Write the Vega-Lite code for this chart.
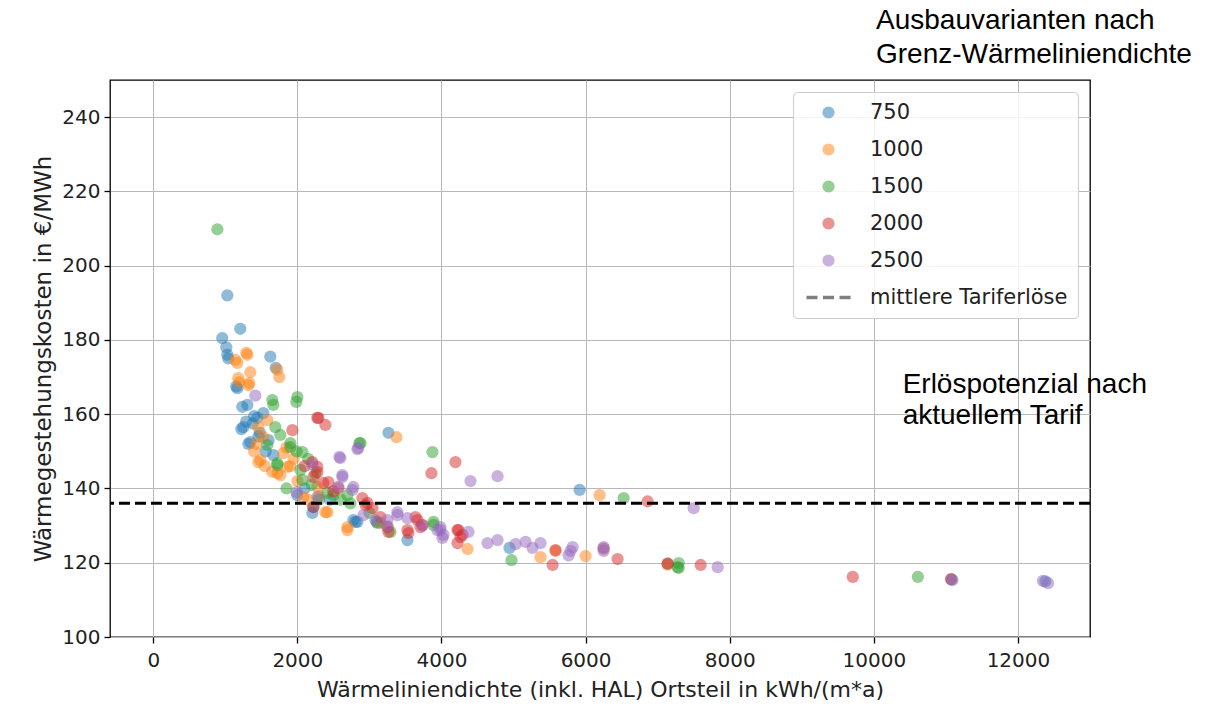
{
  "$schema": "https://vega.github.io/schema/vega-lite/v6.json",
  "width": 980,
  "height": 557,
  "autosize": {"type": "none"},
  "padding": {"left": 110, "top": 80, "right": 121, "bottom": 73},
  "background": "white",
  "config": {
    "view": {"stroke": "black", "strokeWidth": 1.3},
    "axis": {
      "grid": true,
      "gridColor": "#b8b8b8",
      "gridWidth": 1,
      "domain": false,
      "tickColor": "black",
      "tickSize": 6,
      "tickWidth": 1.3,
      "labelFont": "DejaVu Sans",
      "labelFontSize": 20,
      "labelColor": "#222222",
      "labelFlush": false,
      "labelOverlap": false,
      "titleFont": "DejaVu Sans",
      "titleFontSize": 23,
      "titleFontWeight": "normal",
      "titleColor": "#222222"
    },
    "legend": {
      "title": null,
      "orient": "top-right",
      "offset": 12,
      "padding": 10,
      "fillColor": "rgba(255,255,255,0.85)",
      "strokeColor": "#cccccc",
      "cornerRadius": 4,
      "labelFont": "DejaVu Sans",
      "labelFontSize": 21,
      "labelColor": "#222222",
      "labelLimit": 0,
      "rowPadding": 15,
      "symbolOffset": 15,
      "labelOffset": 31,
      "symbolSize": 150,
      "symbolStrokeWidth": 0
    }
  },
  "data": {
    "values": [
      {"x": 1028, "y": 192, "v": "750"}, {"x": 958, "y": 180.5, "v": "750"}, {"x": 1014, "y": 178, "v": "750"}, {"x": 1028, "y": 176, "v": "750"}, {"x": 1042, "y": 175, "v": "750"}, {"x": 1208, "y": 183, "v": "750"}, {"x": 1625, "y": 175.5, "v": "750"}, {"x": 1700, "y": 172.5, "v": "750"}, {"x": 1167, "y": 167, "v": "750"}, {"x": 1153, "y": 167.5, "v": "750"}, {"x": 1236, "y": 162, "v": "750"}, {"x": 1306, "y": 162.5, "v": "750"}, {"x": 1250, "y": 156.5, "v": "750"}, {"x": 1222, "y": 156, "v": "750"}, {"x": 1347, "y": 152.5, "v": "750"}, {"x": 1320, "y": 152, "v": "750"}, {"x": 1444, "y": 159, "v": "750"}, {"x": 1480, "y": 155, "v": "750"}, {"x": 1400, "y": 159.5, "v": "750"}, {"x": 1528, "y": 160.3, "v": "750"}, {"x": 1667, "y": 149, "v": "750"}, {"x": 1560, "y": 150, "v": "750"}, {"x": 1600, "y": 153, "v": "750"}, {"x": 1380, "y": 157.5, "v": "750"}, {"x": 2000, "y": 138.2, "v": "750"}, {"x": 2208, "y": 133.4, "v": "750"}, {"x": 2222, "y": 135, "v": "750"}, {"x": 2778, "y": 131.5, "v": "750"}, {"x": 2806, "y": 131, "v": "750"}, {"x": 3264, "y": 155, "v": "750"}, {"x": 3528, "y": 126.1, "v": "750"}, {"x": 4944, "y": 124, "v": "750"}, {"x": 5917, "y": 139.6, "v": "750"}, {"x": 7139, "y": 119.7, "v": "750"}, {"x": 11080, "y": 115.5, "v": "750"}, {"x": 12380, "y": 115, "v": "750"}, {"x": 2100, "y": 140, "v": "750"}, {"x": 2450, "y": 137, "v": "750"}, {"x": 3100, "y": 131, "v": "750"}, {"x": 1460, "y": 154, "v": "750"}, {"x": 2833, "y": 131, "v": "750"}, {"x": 1290, "y": 158, "v": "750"},
      {"x": 1292, "y": 176.5, "v": "1000"}, {"x": 1306, "y": 176, "v": "1000"}, {"x": 1139, "y": 174.6, "v": "1000"}, {"x": 1167, "y": 173.8, "v": "1000"}, {"x": 1750, "y": 170, "v": "1000"}, {"x": 1720, "y": 172, "v": "1000"}, {"x": 1347, "y": 171.3, "v": "1000"}, {"x": 1180, "y": 169.7, "v": "1000"}, {"x": 1194, "y": 168.6, "v": "1000"}, {"x": 1333, "y": 168.4, "v": "1000"}, {"x": 1320, "y": 167.8, "v": "1000"}, {"x": 1583, "y": 158.4, "v": "1000"}, {"x": 1458, "y": 156.5, "v": "1000"}, {"x": 1528, "y": 153.8, "v": "1000"}, {"x": 1806, "y": 149.5, "v": "1000"}, {"x": 1486, "y": 147.6, "v": "1000"}, {"x": 1458, "y": 147.1, "v": "1000"}, {"x": 1861, "y": 145.8, "v": "1000"}, {"x": 1764, "y": 143.6, "v": "1000"}, {"x": 1722, "y": 144.1, "v": "1000"}, {"x": 1900, "y": 146, "v": "1000"}, {"x": 1950, "y": 148, "v": "1000"}, {"x": 1650, "y": 144.5, "v": "1000"}, {"x": 1550, "y": 146, "v": "1000"}, {"x": 1400, "y": 150, "v": "1000"}, {"x": 1430, "y": 152, "v": "1000"}, {"x": 2000, "y": 142, "v": "1000"}, {"x": 2083, "y": 137.7, "v": "1000"}, {"x": 2278, "y": 140.4, "v": "1000"}, {"x": 2389, "y": 133.6, "v": "1000"}, {"x": 2417, "y": 133.6, "v": "1000"}, {"x": 2694, "y": 128.8, "v": "1000"}, {"x": 2694, "y": 129.6, "v": "1000"}, {"x": 3153, "y": 130.7, "v": "1000"}, {"x": 3375, "y": 153.8, "v": "1000"}, {"x": 4361, "y": 123.7, "v": "1000"}, {"x": 5375, "y": 121.5, "v": "1000"}, {"x": 5583, "y": 123.2, "v": "1000"}, {"x": 6000, "y": 121.8, "v": "1000"}, {"x": 6194, "y": 138.2, "v": "1000"}, {"x": 7139, "y": 119.5, "v": "1000"}, {"x": 2300, "y": 138, "v": "1000"}, {"x": 1850, "y": 151, "v": "1000"}, {"x": 2150, "y": 137, "v": "1000"},
      {"x": 890, "y": 209.8, "v": "1500"}, {"x": 1653, "y": 163.8, "v": "1500"}, {"x": 1667, "y": 162.5, "v": "1500"}, {"x": 2000, "y": 164.6, "v": "1500"}, {"x": 1986, "y": 163.3, "v": "1500"}, {"x": 1694, "y": 156.5, "v": "1500"}, {"x": 1764, "y": 154.4, "v": "1500"}, {"x": 1903, "y": 152.2, "v": "1500"}, {"x": 1903, "y": 151.1, "v": "1500"}, {"x": 1583, "y": 151.7, "v": "1500"}, {"x": 2070, "y": 149.8, "v": "1500"}, {"x": 1722, "y": 146.3, "v": "1500"}, {"x": 1722, "y": 146.8, "v": "1500"}, {"x": 2042, "y": 145, "v": "1500"}, {"x": 2070, "y": 142.3, "v": "1500"}, {"x": 2417, "y": 138.8, "v": "1500"}, {"x": 2694, "y": 138.2, "v": "1500"}, {"x": 2500, "y": 138.2, "v": "1500"}, {"x": 2736, "y": 136, "v": "1500"}, {"x": 2875, "y": 152.2, "v": "1500"}, {"x": 2861, "y": 152.2, "v": "1500"}, {"x": 3111, "y": 130.7, "v": "1500"}, {"x": 3292, "y": 128.3, "v": "1500"}, {"x": 3889, "y": 131, "v": "1500"}, {"x": 3875, "y": 149.8, "v": "1500"}, {"x": 3889, "y": 130.2, "v": "1500"}, {"x": 4972, "y": 120.7, "v": "1500"}, {"x": 6528, "y": 137.4, "v": "1500"}, {"x": 7278, "y": 118.8, "v": "1500"}, {"x": 7292, "y": 119.9, "v": "1500"}, {"x": 7292, "y": 118.6, "v": "1500"}, {"x": 10611, "y": 116.2, "v": "1500"}, {"x": 2200, "y": 141, "v": "1500"}, {"x": 2300, "y": 137, "v": "1500"}, {"x": 2150, "y": 148, "v": "1500"}, {"x": 1850, "y": 140, "v": "1500"}, {"x": 3000, "y": 133.5, "v": "1500"}, {"x": 2600, "y": 137, "v": "1500"}, {"x": 2250, "y": 144, "v": "1500"}, {"x": 1990, "y": 150, "v": "1500"},
      {"x": 2278, "y": 159, "v": "2000"}, {"x": 2292, "y": 159, "v": "2000"}, {"x": 2389, "y": 157.1, "v": "2000"}, {"x": 1931, "y": 155.7, "v": "2000"}, {"x": 2278, "y": 145.8, "v": "2000"}, {"x": 2278, "y": 144.4, "v": "2000"}, {"x": 2222, "y": 143.1, "v": "2000"}, {"x": 2361, "y": 141.5, "v": "2000"}, {"x": 2431, "y": 141.7, "v": "2000"}, {"x": 2569, "y": 140.1, "v": "2000"}, {"x": 2903, "y": 137.4, "v": "2000"}, {"x": 2972, "y": 136.1, "v": "2000"}, {"x": 3042, "y": 134.7, "v": "2000"}, {"x": 2222, "y": 135, "v": "2000"}, {"x": 3153, "y": 132.3, "v": "2000"}, {"x": 3250, "y": 129.6, "v": "2000"}, {"x": 3264, "y": 128.3, "v": "2000"}, {"x": 3542, "y": 128, "v": "2000"}, {"x": 3667, "y": 131.5, "v": "2000"}, {"x": 3639, "y": 132.3, "v": "2000"}, {"x": 3528, "y": 128.8, "v": "2000"}, {"x": 3708, "y": 129.6, "v": "2000"}, {"x": 4222, "y": 128.8, "v": "2000"}, {"x": 4292, "y": 127.5, "v": "2000"}, {"x": 4194, "y": 147.1, "v": "2000"}, {"x": 3861, "y": 144.1, "v": "2000"}, {"x": 4236, "y": 128.8, "v": "2000"}, {"x": 4264, "y": 126.9, "v": "2000"}, {"x": 4222, "y": 125.3, "v": "2000"}, {"x": 5542, "y": 119.4, "v": "2000"}, {"x": 5583, "y": 123.4, "v": "2000"}, {"x": 6250, "y": 123.8, "v": "2000"}, {"x": 6444, "y": 121, "v": "2000"}, {"x": 6861, "y": 136.5, "v": "2000"}, {"x": 7139, "y": 119.8, "v": "2000"}, {"x": 7597, "y": 119.4, "v": "2000"}, {"x": 9708, "y": 116.2, "v": "2000"}, {"x": 11069, "y": 115.6, "v": "2000"}, {"x": 2208, "y": 147.1, "v": "2000"}, {"x": 2950, "y": 135.5, "v": "2000"}, {"x": 2500, "y": 139.2, "v": "2000"}, {"x": 3736, "y": 130.2, "v": "2000"}, {"x": 2100, "y": 146, "v": "2000"},
      {"x": 1417, "y": 165, "v": "2500"}, {"x": 1990, "y": 139, "v": "2500"}, {"x": 2278, "y": 137.7, "v": "2500"}, {"x": 2583, "y": 148.5, "v": "2500"}, {"x": 2597, "y": 148.2, "v": "2500"}, {"x": 2625, "y": 143.6, "v": "2500"}, {"x": 2625, "y": 143.1, "v": "2500"}, {"x": 2847, "y": 150.9, "v": "2500"}, {"x": 2833, "y": 150.6, "v": "2500"}, {"x": 2778, "y": 140.4, "v": "2500"}, {"x": 2764, "y": 139.6, "v": "2500"}, {"x": 2917, "y": 132.8, "v": "2500"}, {"x": 3083, "y": 131.5, "v": "2500"}, {"x": 3250, "y": 131.5, "v": "2500"}, {"x": 3389, "y": 133.6, "v": "2500"}, {"x": 3389, "y": 132.8, "v": "2500"}, {"x": 3528, "y": 132, "v": "2500"}, {"x": 3986, "y": 129.6, "v": "2500"}, {"x": 3944, "y": 128.8, "v": "2500"}, {"x": 4028, "y": 127.5, "v": "2500"}, {"x": 4375, "y": 128.3, "v": "2500"}, {"x": 4403, "y": 142, "v": "2500"}, {"x": 4778, "y": 143.3, "v": "2500"}, {"x": 3986, "y": 128.8, "v": "2500"}, {"x": 4014, "y": 126.7, "v": "2500"}, {"x": 4639, "y": 125.3, "v": "2500"}, {"x": 4778, "y": 126.1, "v": "2500"}, {"x": 5028, "y": 125, "v": "2500"}, {"x": 5167, "y": 125.6, "v": "2500"}, {"x": 5264, "y": 124, "v": "2500"}, {"x": 5375, "y": 125.3, "v": "2500"}, {"x": 5792, "y": 123.2, "v": "2500"}, {"x": 5820, "y": 124.2, "v": "2500"}, {"x": 5764, "y": 122, "v": "2500"}, {"x": 6250, "y": 124.2, "v": "2500"}, {"x": 7500, "y": 134.7, "v": "2500"}, {"x": 7833, "y": 118.8, "v": "2500"}, {"x": 12347, "y": 115.1, "v": "2500"}, {"x": 12417, "y": 114.5, "v": "2500"}, {"x": 11090, "y": 115.3, "v": "2500"}, {"x": 2208, "y": 146.5, "v": "2500"}, {"x": 2569, "y": 140.5, "v": "2500"}, {"x": 3736, "y": 130.0, "v": "2500"}, {"x": 6250, "y": 123.2, "v": "2500"}, {"x": 3250, "y": 129.8, "v": "2500"},
      {"y": 136, "v": "mittlere Tariferlöse"}
    ]
  },
  "layer": [
    {
      "transform": [{"filter": "datum.v !== 'mittlere Tariferlöse'"}],
      "mark": {"type": "point", "filled": true, "size": 150, "strokeWidth": 0},
      "encoding": {
        "x": {
          "field": "x", "type": "quantitative",
          "scale": {"domain": [-600, 13000], "nice": false, "zero": false},
          "axis": {"values": [0, 2000, 4000, 6000, 8000, 10000, 12000], "format": "d", "title": "Wärmeliniendichte (inkl. HAL) Ortsteil in kWh/(m*a)", "titleFontSize": 22, "labelPadding": 7, "titlePadding": 9}
        },
        "y": {
          "field": "y", "type": "quantitative",
          "scale": {"domain": [100, 250], "nice": false, "zero": false},
          "axis": {"values": [100, 120, 140, 160, 180, 200, 220, 240], "format": "d", "title": "Wärmegestehungskosten in €/MWh", "labelPadding": 4, "titlePadding": 6}
        },
        "color": {
          "field": "v", "type": "nominal",
          "scale": {
            "domain": ["750", "1000", "1500", "2000", "2500", "mittlere Tariferlöse"],
            "range": ["#1f77b4", "#ff7f0e", "#2ca02c", "#d62728", "#9467bd", "#000000"]
          }
        },
        "shape": {
          "field": "v", "type": "nominal",
          "scale": {
            "domain": ["750", "1000", "1500", "2000", "2500", "mittlere Tariferlöse"],
            "range": ["circle", "circle", "circle", "circle", "circle", "M-3.6,-0.27H-1.8V0.27H-3.6Z M-0.9,-0.27H0.9V0.27H-0.9Z M1.8,-0.27H3.6V0.27H1.8Z"]
          }
        },
        "opacity": {
          "field": "v", "type": "nominal",
          "scale": {
            "domain": ["750", "1000", "1500", "2000", "2500", "mittlere Tariferlöse"],
            "range": [0.5, 0.5, 0.5, 0.5, 0.5, 1]
          }
        }
      }
    },
    {
      "transform": [{"filter": "datum.v === 'mittlere Tariferlöse'"}],
      "mark": {"type": "rule", "strokeDash": [11, 5], "strokeWidth": 3, "color": "black"},
      "encoding": {
        "y": {"field": "y", "type": "quantitative"}
      }
    },
    {
      "data": {"values": [{}]},
      "mark": {"type": "text", "align": "left", "baseline": "alphabetic", "font": "Liberation Sans", "fontSize": 28, "lineHeight": 34, "fill": "black"},
      "encoding": {
        "x": {"datum": 10030, "type": "quantitative"},
        "y": {"datum": 263.7, "type": "quantitative"},
        "text": {"value": ["Ausbauvarianten nach", "Grenz-Wärmeliniendichte"]}
      }
    },
    {
      "data": {"values": [{}]},
      "mark": {"type": "text", "align": "left", "baseline": "alphabetic", "font": "Liberation Sans", "fontSize": 28, "lineHeight": 31, "fill": "black"},
      "encoding": {
        "x": {"datum": 10400, "type": "quantitative"},
        "y": {"datum": 165.7, "type": "quantitative"},
        "text": {"value": ["Erlöspotenzial nach", "aktuellem Tarif"]}
      }
    }
  ]
}
